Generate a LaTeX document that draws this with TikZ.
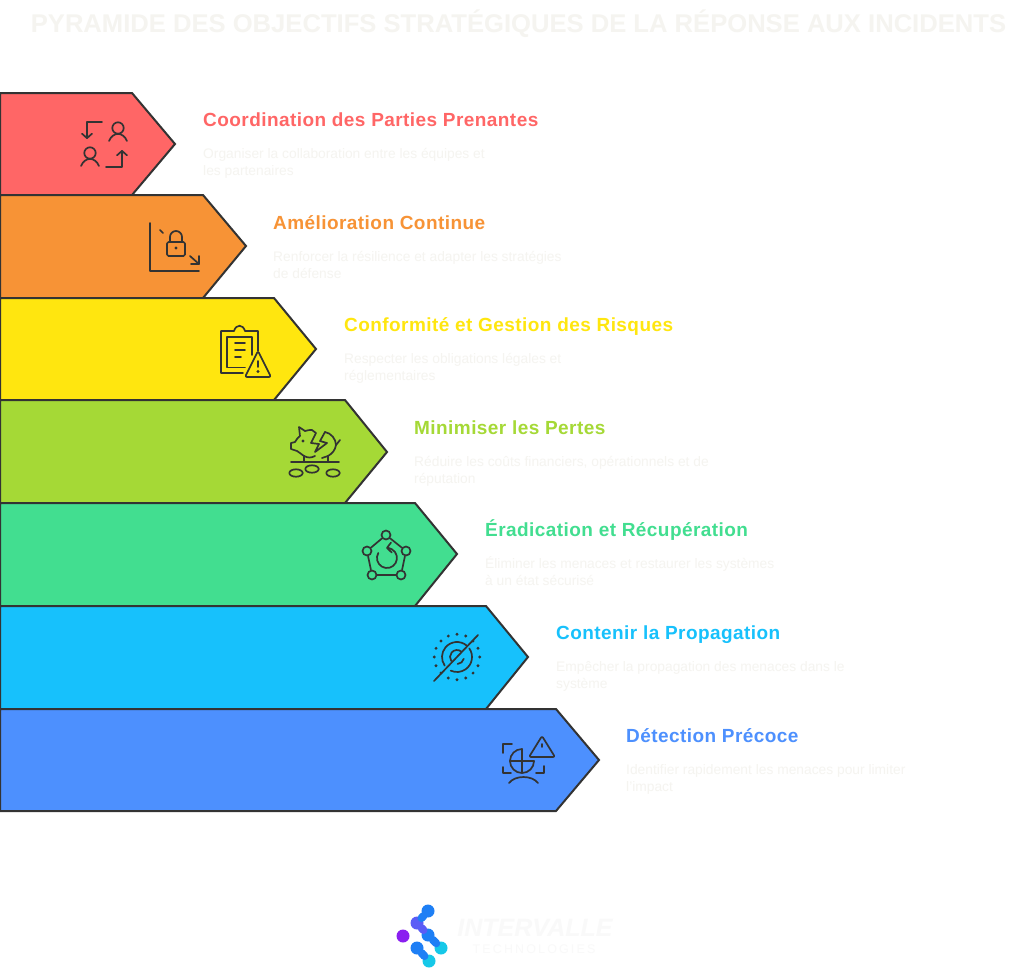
\documentclass[tikz,border=0pt]{standalone}
\usepackage{fontspec}
\setmainfont{Liberation Sans}
\usepackage{tikz}
\usetikzlibrary{arrows.meta, calc, positioning}
\definecolor{ink}{HTML}{333333}
\definecolor{redband}{HTML}{FF6666}
\definecolor{orangeband}{HTML}{F79336}
\definecolor{yellowband}{HTML}{FFE60F}
\definecolor{limeband}{HTML}{A5D936}
\definecolor{greenband}{HTML}{42DE90}
\definecolor{skyband}{HTML}{17C1FC}
\definecolor{blueband}{HTML}{4D90FE}
\definecolor{paletext}{HTML}{F5F4F0}
\definecolor{brandtext}{HTML}{F9F9F9}
\definecolor{logoviolet}{HTML}{8A1FF0}
\definecolor{logomid}{HTML}{5B5CF6}
\definecolor{logoblue}{HTML}{1E7FF5}
\definecolor{logoteal}{HTML}{16C8E8}
\tikzstyle{band} = [draw=ink, line width=2pt, line join=miter]
\tikzstyle{icon} = [draw=ink, line width=1.7pt, line cap=round, line join=round]
\tikzstyle{arrow} = [icon, -{Straight Barb[length=4.5pt,width=10pt,round]}]
\tikzstyle{dot} = [circle, fill=ink, inner sep=0pt, minimum size=3.2pt]
\tikzstyle{ring} = [circle, draw=ink, line width=1.7pt, inner sep=0pt, minimum size=9pt]
\tikzstyle{title} = [anchor=center, inner sep=0pt, text=paletext, font=\fontsize{25.6}{27}\selectfont\bfseries]
\tikzstyle{heading} = [anchor=west, inner sep=0pt, text height=14pt, text depth=4pt, font=\fontsize{19}{20}\selectfont\bfseries\addfontfeature{LetterSpace=2.3}]
\tikzstyle{bodytext} = [anchor=north west, inner sep=0pt, align=left, text height=10pt, text=paletext, font=\fontsize{13.8}{17}\selectfont]
\tikzstyle{bead} = [circle, inner sep=0pt, minimum size=13pt]
\tikzstyle{link} = [line width=8pt, line cap=round]
\begin{document}
\begin{tikzpicture}[x=1pt,y=-1pt]
\useasboundingbox[fill=white] (0,0) rectangle (1024,967);

\node(title)[title] at (518.5,24) {PYRAMIDE DES OBJECTIFS STRATÉGIQUES DE LA RÉPONSE AUX INCIDENTS};

% bands
\draw[band, fill=redband] (0,93) -- (132,93) -- (175,144) -- (132,195) -- (0,195) -- cycle;
\draw[band, fill=orangeband] (0,195) -- (203,195) -- (246,246) -- (203,298) -- (0,298) -- cycle;
\draw[band, fill=yellowband] (0,298) -- (274,298) -- (316,349) -- (274,400) -- (0,400) -- cycle;
\draw[band, fill=limeband] (0,400) -- (345,400) -- (387,452) -- (345,503) -- (0,503) -- cycle;
\draw[band, fill=greenband] (0,503) -- (415,503) -- (457,554) -- (415,606) -- (0,606) -- cycle;
\draw[band, fill=skyband] (0,606) -- (486,606) -- (528,657) -- (486,709) -- (0,709) -- cycle;
\draw[band, fill=blueband] (0,709) -- (556,709) -- (599,760) -- (556,811) -- (0,811) -- cycle;

% texts
\node(headA)[heading, text=redband] at (203,121) {Coordination des Parties Prenantes};
\node(bodyA)[below=35pt of headA.south west, bodytext] {Organiser la collaboration entre les équipes et\\les partenaires};
\node(headB)[heading, text=orangeband] at (273,224) {Amélioration Continue};
\node(bodyB)[below=35pt of headB.south west, bodytext] {Renforcer la résilience et adapter les stratégies\\de défense};
\node(headC)[heading, text=yellowband] at (344,326) {Conformité et Gestion des Risques};
\node(bodyC)[below=35pt of headC.south west, bodytext] {Respecter les obligations légales et\\réglementaires};
\node(headD)[heading, text=limeband] at (414,429) {Minimiser les Pertes};
\node(bodyD)[below=35pt of headD.south west, bodytext] {Réduire les coûts financiers, opérationnels et de\\réputation};
\node(headE)[heading, text=greenband] at (485,531) {Éradication et Récupération};
\node(bodyE)[below=35pt of headE.south west, bodytext] {Éliminer les menaces et restaurer les systèmes\\à un état sécurisé};
\node(headF)[heading, text=skyband] at (556,634) {Contenir la Propagation};
\node(bodyF)[below=35pt of headF.south west, bodytext] {Empêcher la propagation des menaces dans le\\système};
\node(headG)[heading, text=blueband] at (626,737) {Détection Précoce};
\node(bodyG)[below=35pt of headG.south west, bodytext] {Identifier rapidement les menaces pour limiter\\l'impact};

% coordination icon
\draw[arrow] (102,122) -- (87,122) -- (87,139);
\draw[arrow] (106,167) -- (122,167) -- (122,150);
\draw[icon] (118,128) circle (5.7);
\draw[icon] (109,141) .. controls (113,131.5) and (123,131.5) .. (127,141);
\draw[icon] (90,153) circle (5.7);
\draw[icon] (81,166) .. controls (85,156.5) and (95,156.5) .. (99,166);

% padlock icon
\draw[icon] (150,223) -- (150,271) -- (199,271);
\draw[icon] (160,230) -- (163,233);
\draw[icon, rounded corners=1.5] (167,242) rectangle (185,256);
\draw[icon] (170,242) -- (170,237) arc (180:0:6pt) -- (182,242);
\node(lockdot)[dot] at (176,248) {};
\draw[icon] (190,256) -- (199,264);
\draw[icon] (199,256) -- (199,264) -- (191,264);

% clipboard icon
\draw[icon] (243,373) -- (221,373) -- (221,331) -- (234,331) .. controls (236,324) and (243,324) .. (245,331) -- (258,331) -- (258,351);
\draw[icon] (245,367.5) -- (227,367.5) -- (227,337) -- (252,337) -- (252,355);
\draw[icon] (235,343) -- (245,343);
\draw[icon] (235,350) -- (245,350);
\draw[icon] (235,357) -- (241,357);
\draw[icon, rounded corners=2] (258,351) -- (271,377) -- (245,377) -- cycle;
\draw[icon] (258,361) -- (258,367);
\node(warndot)[dot] at (258,371.5) {};

% piggy icon
\draw[icon] (291,462) -- (339,462);
\draw[icon] (304,456) -- (304,462);
\draw[icon] (328,456) -- (328,462);
\draw[icon] (304,456) .. controls (301,454) and (299,452) .. (297,451) -- (291,449) -- (291,443) -- (295,442) .. controls (297,439) and (298,437) .. (300,436) -- (299,427) -- (305,431) .. controls (307,430) and (310,430) .. (312,430) -- (316,433) -- (311,443) -- (319,444) -- (315,452) -- (327,443) -- (320,441) -- (325,432);
\draw[icon] (325,432) .. controls (331,433) and (336,439) .. (336,445) .. controls (335,450) and (333,453) .. (328,456);
\draw[icon] (336,445) -- (340,440);
\draw[icon] (304,456) .. controls (308,458) and (311,458) .. (315,456);
\draw[icon] (322,458) -- (328,456);
\node(pigeye)[dot] at (303,441) {};
\draw[icon] (296,473) ellipse (6.7 and 3.7);
\draw[icon] (312,469) ellipse (6.7 and 3.7);
\draw[icon] (333,473) ellipse (6.7 and 3.7);

% recovery icon
\node(ringA)[ring] at (386,535) {};
\node(ringB)[ring] at (406,551) {};
\node(ringC)[ring] at (401,575) {};
\node(ringD)[ring] at (372,575) {};
\node(ringE)[ring] at (367,551) {};
\draw[icon] (ringA) -- (ringB);
\draw[icon] (ringB) -- (ringC);
\draw[icon] (ringC) -- (ringD);
\draw[icon] (ringD) -- (ringE);
\draw[icon] (ringE) -- (ringA);
\draw[arrow] (378.3,553) arc (150:455:10pt);

% containment icon
\foreach \a in {0,22.5,...,337.5} {
  \node[dot] at ($(457,657)+(\a:22.7pt)$) {};
}
\draw[icon] ($(457,657)+(50:15pt)$) arc (50:215:15pt);
\draw[icon] ($(457,657)+(35:15pt)$) arc (35:-115:15pt);
\draw[icon] ($(457,657)+(50:7pt)$) arc (50:215:7pt);
\draw[icon] ($(457,657)+(-15:7pt)$) arc (-15:-85:7pt);
\draw[icon] (434,681) -- (478,635);

% detection icon
\draw[icon] (512,744) -- (503,744) -- (503,753);
\draw[icon] (503,767) -- (503,773) -- (511,773);
\draw[icon] (544,766) -- (544,773) -- (536,773);
\draw[icon] (522,749) -- (522,772);
\draw[icon] (510,761) -- (534,761);
\draw[icon] (534,761) arc (0:-180:12pt) arc (180:90:12pt);
\draw[icon, rounded corners=2] (542,736) -- (555,757) -- (529,757) -- cycle;
\draw[icon] (542,744) -- (542,747);
\draw[icon] (509,783) .. controls (515,775) and (532,775) .. (538,783);

% logo
\node(beadA)[bead, fill=logoblue] at (428,911) {};
\node(beadB)[bead, fill=logomid] at (417,923) {};
\node(beadC)[bead, fill=logoblue] at (428,935) {};
\node(beadD)[bead, fill=logoteal] at (441,948) {};
\node(beadE)[bead, fill=logoblue] at (417,948) {};
\node(beadF)[bead, fill=logoteal] at (429,961) {};
\node(beadG)[bead, fill=logoviolet] at (403,936) {};
\draw[link, logoblue] (beadA) -- (beadB);
\draw[link, logomid] (beadB) -- (beadC);
\draw[link, logoblue] (beadC) -- (beadD);
\draw[link, logoblue] (beadE) -- (beadF);
\node(brand)[inner sep=0pt, text=brandtext, font=\fontsize{25}{27}\selectfont\bfseries\itshape] at (535,928) {INTERVALLE};
\node(tagline)[inner sep=0pt, text=brandtext, font=\fontsize{12.5}{14}\selectfont\addfontfeature{LetterSpace=17}] at (534,949) {TECHNOLOGIES};
\end{tikzpicture}
\end{document}
